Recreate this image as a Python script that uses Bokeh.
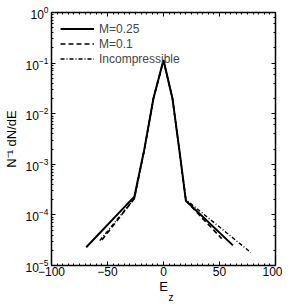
from bokeh.plotting import figure
from bokeh.models import (LinearAxis, LogAxis, Legend, LegendItem, Title,
                          FixedTicker, Range1d, CustomJSTickFormatter)
from bokeh.embed import file_html
from bokeh.resources import INLINE

# data
E_m025 = [-69, -26, -17, -9, 0, 8, 14, 20, 62]
N_m025 = [2.3e-5, 2.3e-4, 2.04e-3, 2.0e-2, 0.115, 2.0e-2, 2.04e-3, 1.9e-4, 2.5e-5]

E_m01 = [-55, -26, -17, -9, 0, 8, 14, 20, 52]
N_m01 = [3.2e-5, 2.1e-4, 2.0e-3, 2.0e-2, 0.113, 2.0e-2, 2.0e-3, 1.9e-4, 3.4e-5]

E_inc = [-57, -26, -17, -9, 0, 8, 14, 20, 78]
N_inc = [3.1e-5, 2.1e-4, 2.0e-3, 2.0e-2, 0.112, 2.0e-2, 2.0e-3, 2.0e-4, 1.8e-5]

labels = ["M=0.25", "M=0.1", "Incompressible"]
x_ticks = [-100, -50, 0, 50, 100]

FONT = "Liberation Sans"

p = figure(frame_width=224, frame_height=253, y_axis_type="log",
           x_range=Range1d(-100, 100), y_range=Range1d(1e-5, 1),
           output_backend="svg", toolbar_location=None,
           min_border_left=44, min_border_right=7, min_border_top=12, min_border_bottom=37)
p.grid.visible = False
p.outline_line_color = None
p.background_fill_color = "white"

r1 = p.line(E_m025, N_m025, line_color="black", line_width=2)
r2 = p.line(E_m01, N_m01, line_color="black", line_width=1.6, line_dash="5 3")
r3 = p.line(E_inc, N_inc, line_color="black", line_width=1.4, line_dash="4 2 1 2")

minus_fmt = CustomJSTickFormatter(code="return (tick < 0 ? '\u2212' : '') + Math.abs(tick).toString();")
blank_fmt = CustomJSTickFormatter(code="return '';")

def style(ax, size="12px"):
    ax.axis_line_width = 1.5
    ax.axis_line_color = "black"
    ax.major_tick_in = 4
    ax.major_tick_out = 0
    ax.minor_tick_in = 2
    ax.minor_tick_out = 0
    ax.major_tick_line_color = "black"
    ax.minor_tick_line_color = "black"
    ax.major_tick_line_width = 1
    ax.minor_tick_line_width = 1
    ax.major_label_text_font = FONT
    ax.major_label_text_font_size = size
    ax.major_label_text_color = "black"
    ax.major_label_standoff = 3

xa = p.xaxis[0]
style(xa)
xa.ticker = FixedTicker(ticks=x_ticks, minor_ticks=list(range(-100, 101, 5)))
xa.formatter = minus_fmt
xa.major_label_standoff = 1
xa.axis_label = "E"
xa.axis_label_text_font = FONT
xa.axis_label_text_font_size = "13px"
xa.axis_label_text_font_style = "normal"
xa.axis_label_text_color = "black"
xa.axis_label_standoff = 0

ya = p.yaxis[0]
style(ya)
ya.axis_label = "N\u207b\u00b9 dN/dE"
ya.axis_label_text_font = FONT
ya.axis_label_text_font_size = "13px"
ya.axis_label_text_font_style = "normal"
ya.axis_label_text_color = "black"
ya.axis_label_standoff = 4

top = LinearAxis(ticker=FixedTicker(ticks=x_ticks, minor_ticks=list(range(-100, 101, 5))),
                 formatter=blank_fmt)
style(top, "1px")
top.major_label_standoff = 0
p.add_layout(top, "above")

right = LogAxis(formatter=blank_fmt)
style(right, "1px")
right.major_label_standoff = 0
p.add_layout(right, "right")

# subscript z for the x axis label
sub = Title(text="z", align="left", offset=117, standoff=-13,
            text_font=FONT, text_font_size="10px", text_font_style="normal",
            text_color="black")
p.add_layout(sub, "below")

legend = Legend(items=[LegendItem(label=labels[0], renderers=[r1]),
                       LegendItem(label=labels[1], renderers=[r2]),
                       LegendItem(label=labels[2], renderers=[r3])],
                location="top_left", margin=9, padding=0, spacing=0,
                glyph_width=34, glyph_height=15, label_height=15,
                label_standoff=5, border_line_color=None,
                background_fill_alpha=0, label_text_font=FONT,
                label_text_font_size="12px")
p.add_layout(legend, "center")

open("out.html", "w").write(file_html(p, INLINE))
